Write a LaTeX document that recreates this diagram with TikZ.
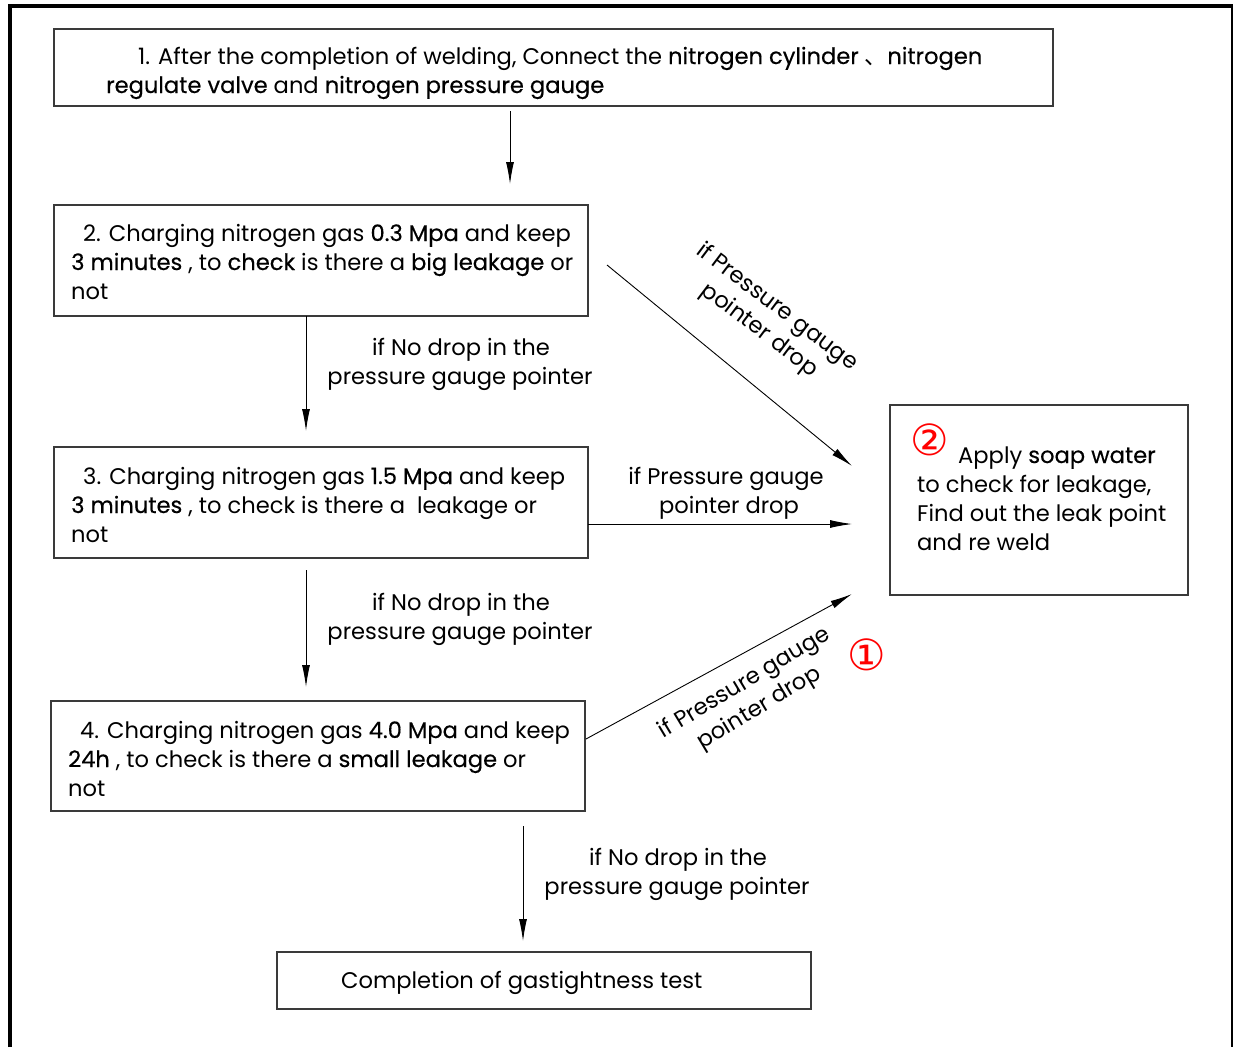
\documentclass[tikz,border=0pt]{standalone}
\usepackage{fontspec}
\setmainfont{Poppins}
\newfontfamily\emf[FakeBold=0.4]{Poppins}
\newfontfamily\cjk{Noto Sans CJK SC}
\newfontfamily\dejavu{DejaVu Sans}
\usetikzlibrary{arrows.meta}
\definecolor{boxgray}{HTML}{3A3A3A}
\newcommand{\hb}[1]{{\emf #1}}
\tikzset{
  flowbox/.style={draw=boxgray, line width=1.1pt, rectangle, inner sep=0pt},
  txt/.style={inner sep=0pt, font=\fontsize{22.6}{29}\selectfont, anchor=base west},
  ctxt/.style={inner sep=0pt, font=\fontsize{22.6}{29}\selectfont, anchor=base},
  lbl/.style={inner sep=0pt, font=\fontsize{22.6}{29}\selectfont, align=center},
  flow/.style={line width=0.9pt, -{Latex[length=22pt,width=8pt]}},
  circmark/.style={inner sep=0pt, text=red, font=\dejavu\fontsize{43}{43}\selectfont}
}
\begin{document}
\begin{tikzpicture}[x=1pt,y=-1pt]
\useasboundingbox (0,0) rectangle (1233,1047);
% frame
\draw[line width=4pt] (10,1047) -- (10,6) -- (1233,6);
\draw[line width=2pt] (1232,6) -- (1232,1047);

% boxes
\node[flowbox, minimum width=999pt, minimum height=77pt] (b1) at (553.5,67.5) {};
\node[flowbox, minimum width=534pt, minimum height=111pt] (b2) at (321,260.5) {};
\node[flowbox, minimum width=534pt, minimum height=111pt] (b3) at (321,502.5) {};
\node[flowbox, minimum width=534pt, minimum height=110pt] (b4) at (318,756) {};
\node[flowbox, minimum width=534pt, minimum height=57pt] (b5) at (544,980.5) {};
\node[flowbox, minimum width=298pt, minimum height=190pt] (br) at (1039,500) {};

% box texts
\node[txt] (t11) at (138,64) {1. After the completion of welding, Connect the \hb{nitrogen cylinder} {\cjk 、}\hb{nitrogen}};
\node[txt] (t12) at (106,93) {\hb{regulate valve} and \hb{nitrogen pressure gauge}};

\node[txt] (t21) at (83,241) {2. Charging nitrogen gas \hb{0.3} \hb{Mpa} and keep};
\node[txt] (t22) at (71,270) {\hb{3 minutes} , to \hb{check} is there a \hb{big leakage} or};
\node[txt] (t23) at (71,299) {not};

\node[txt] (t31) at (83,484) {3. Charging nitrogen gas \hb{1.5 Mpa} and keep};
\node[txt] (t32) at (71,513) {\hb{3 minutes} , to check is there a\ \ leakage or};
\node[txt] (t33) at (71,542) {not};

\node[txt] (t41) at (80,738) {4. Charging nitrogen gas \hb{4.0 Mpa} and keep};
\node[txt] (t42) at (68,767) {\hb{24h} , to check is there a \hb{small leakage} or};
\node[txt] (t43) at (68,796) {not};

\node[txt] (t51) at (341,988) {Completion of gastightness test};

\node[circmark] (m2) at (930,440) {②};
\node[txt] (tr1) at (958,463) {Apply \hb{soap water}};
\node[txt] (tr2) at (917,492) {to check for leakage,};
\node[txt] (tr3) at (917,521) {Find out the leak point};
\node[txt] (tr4) at (917,550) {and re weld};

\node[circmark] (m1) at (867,655) {①};

% connector coordinates
\coordinate (p1a) at (510,111);  \coordinate (p1b) at (510,184);
\coordinate (p2a) at (306,316);  \coordinate (p2b) at (306,431);
\coordinate (p3a) at (306,570);  \coordinate (p3b) at (306,687);
\coordinate (p4a) at (523,826);  \coordinate (p4b) at (523,941);
\coordinate (p5a) at (607,265);  \coordinate (p5b) at (852,466);
\coordinate (p6a) at (588,524);  \coordinate (p6b) at (852,524);
\coordinate (p7a) at (586,739);  \coordinate (p7b) at (852,594);

\draw[flow] (p1a) -- (p1b);
\draw[flow] (p2a) -- (p2b);
\draw[flow] (p3a) -- (p3b);
\draw[flow] (p4a) -- (p4b);
\draw[flow] (p5a) -- (p5b);
\draw[flow] (p6a) -- (p6b);
\draw[flow] (p7a) -- (p7b);

% connector labels
\node[ctxt] (l21) at (461,355) {if No drop in the};
\node[ctxt] (l22) at (460,384) {pressure gauge pointer};
\node[ctxt] (l31) at (461,610) {if No drop in the};
\node[ctxt] (l32) at (460,639) {pressure gauge pointer};
\node[ctxt] (l41) at (678,865) {if No drop in the};
\node[ctxt] (l42) at (677,894) {pressure gauge pointer};
\node[ctxt] (l61) at (726,484) {if Pressure gauge};
\node[ctxt] (l62) at (729,513) {pointer drop};
\node[lbl, rotate=-37] (l5) at (768,319) {if Pressure gauge\\pointer drop};
\node[lbl, rotate=31] (l7) at (752,696) {if Pressure gauge\\pointer drop};
\end{tikzpicture}
\end{document}
